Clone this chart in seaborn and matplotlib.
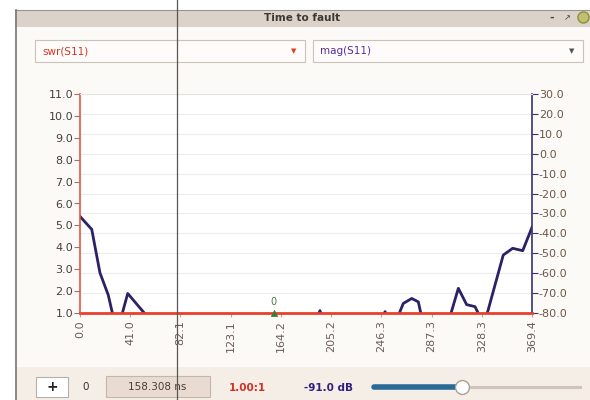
import matplotlib
matplotlib.use("Agg")
import matplotlib.pyplot as plt
import seaborn as sns
from matplotlib.patches import Rectangle
from matplotlib.lines import Line2D

# ---------------- data ----------------
time_ns = [0.0, 9.6, 16.3, 23.1, 30.2, 39.0, 56.0, 80.0, 110.0, 140.0, 158.3,
           175.0, 190.0, 196.1, 202.0, 225.0, 243.0, 249.3, 255.8, 264.2, 271.1,
           276.5, 282.8, 297.5, 309.2, 316.0, 322.8, 330.2, 345.9, 353.6, 361.8, 369.4]
mag_db = [-31.5, -38.0, -59.8, -71.0, -90.0, -70.2, -82.5, -93.0, -95.0, -92.0, -91.0,
          -94.0, -90.0, -78.8, -90.0, -96.0, -90.0, -79.3, -88.0, -75.2, -72.7,
          -74.4, -92.0, -92.0, -67.6, -75.8, -76.8, -86.0, -50.9, -47.5, -48.7, -37.0]
swr_time = [0.0, 369.4]
swr_val = [1.0, 1.0]
x_ticks = [0.0, 41.0, 82.1, 123.1, 164.2, 205.2, 246.3, 287.3, 328.3, 369.4]
swr_ticks = [1.0, 2.0, 3.0, 4.0, 5.0, 6.0, 7.0, 8.0, 9.0, 10.0, 11.0]
mag_ticks = [-80.0, -70.0, -60.0, -50.0, -40.0, -30.0, -20.0, -10.0, 0.0, 10.0, 20.0, 30.0]
marker_time = 158.308
marker_swr = 1.0
marker_label = "0"
window_title = "Time to fault"
left_trace = "swr(S11)"
right_trace = "mag(S11)"
readout_time = "158.308 ns"
readout_swr = "1.00:1"
readout_mag = "-91.0 dB"

plt.rcParams['font.family'] = ['DejaVu Sans']

W, H = 590, 400
fig = plt.figure(figsize=(W / 100, H / 100), dpi=100)
fig.patch.set_facecolor('white')


def fx(px):
    return px / W


def fy(py):
    return 1 - py / H


def rect(x0, y0, x1, y1, **kw):
    fig.add_artist(Rectangle((fx(x0), fy(y1)), (x1 - x0) / W, (y1 - y0) / H,
                             transform=fig.transFigure, **kw))


def hline(x0, x1, y, **kw):
    fig.add_artist(Line2D([fx(x0), fx(x1)], [fy(y), fy(y)], transform=fig.transFigure, **kw))


def vline(x, y0, y1, **kw):
    fig.add_artist(Line2D([fx(x), fx(x)], [fy(y0), fy(y1)], transform=fig.transFigure, **kw))


# ---------------- window chrome ----------------
rect(15, 10, 590, 400, fc='#fbfaf7', ec='none', zorder=0)
rect(15, 10, 590, 27, fc='#dbd2c9', ec='none', zorder=0)
rect(15, 367, 590, 400, fc='#f4eee7', ec='none', zorder=0)
hline(15, 590, 10, color='#9a948e', lw=0.8)
vline(16, 10, 400, color='#7a7672', lw=1.2)
fig.text(fx(302), fy(18), window_title, ha='center', va='center', fontsize=7.5,
         fontweight='bold', color='#3d3833')
fig.text(fx(552), fy(18), "-", ha='center', va='center', fontsize=8, fontweight='bold', color='#444')
fig.text(fx(567), fy(18), "↗", ha='center', va='center', fontsize=6, color='#444')
fig.add_artist(Line2D([fx(583)], [fy(17)], marker='o', ms=8, mfc='#c2c070', mec='#8f8d45',
                      transform=fig.transFigure))

# combo boxes
rect(35, 40, 305, 62, fc='#fdfcfa', ec='#cbc2b8', lw=0.8)
fig.text(fx(42), fy(51), left_trace, ha='left', va='center', fontsize=7.5, color='#d8351f')
fig.text(fx(294), fy(51), "▼", ha='center', va='center', fontsize=5, color='#e04020')
rect(313, 40, 583, 62, fc='#fdfcfa', ec='#cbc2b8', lw=0.8)
fig.text(fx(320), fy(51), right_trace, ha='left', va='center', fontsize=7.5, color='#5b2d9c')
fig.text(fx(572), fy(51), "▼", ha='center', va='center', fontsize=5, color='#555555')

# bottom bar widgets
rect(36, 377, 68, 397, fc='#ffffff', ec='#b8b0a8', lw=0.8)
fig.text(fx(52), fy(387), "+", ha='center', va='center', fontsize=10, fontweight='bold', color='#222')
fig.text(fx(86), fy(387), "0", ha='center', va='center', fontsize=7.5, color='#333')
rect(106, 376, 210, 397, fc='#eadbd2', ec='#c6b6aa', lw=0.8)
fig.text(fx(157), fy(387), readout_time, ha='center', va='center', fontsize=7.5, color='#4a3c36')
fig.text(fx(247), fy(388), readout_swr, ha='center', va='center', fontsize=7.5,
         fontweight='bold', color='#d23028')
fig.text(fx(328), fy(388), readout_mag, ha='center', va='center', fontsize=7.5,
         fontweight='bold', color='#2e1f80')
hline(462, 580, 387, color='#cfc5bc', lw=2.2)
hline(374, 462, 387, color='#2a6a98', lw=4, solid_capstyle='round')
fig.add_artist(Line2D([fx(462)], [fy(387)], marker='o', ms=10, mfc='#ffffff', mec='#a8a098',
                      transform=fig.transFigure))

# ---------------- chart ----------------
ax = fig.add_axes([fx(80), fy(313), (532 - 80) / W, (313 - 94) / H])
ax2 = ax.twinx()
ax.set_zorder(3)
ax.patch.set_visible(False)
ax2.set_zorder(2)
ax2.patch.set_visible(True)
ax2.patch.set_facecolor('white')

sns.lineplot(x=time_ns, y=mag_db, ax=ax2, color='#2b2166', lw=2, estimator=None, sort=False)
sns.lineplot(x=swr_time, y=swr_val, ax=ax, color='#e8402a', lw=2, clip_on=False)
sns.scatterplot(x=[marker_time], y=[marker_swr], ax=ax, marker='^', s=22, color='#3a7a3a',
                edgecolor='#3a7a3a', clip_on=False, zorder=6)
ax.annotate(marker_label, (marker_time, marker_swr), xytext=(0, 4), textcoords='offset points',
            ha='center', va='bottom', fontsize=7, color='#3f7a3f')

ax.set_xlim(0.0, 369.4)
ax.set_ylim(1.0, 11.0)
ax2.set_ylim(-80.0, 30.0)
ax.set_xticks(x_ticks)
ax.set_xticklabels([f"{v:.1f}" for v in x_ticks])
ax.set_yticks(swr_ticks)
ax.set_yticklabels([f"{v:.1f}" for v in swr_ticks])
ax2.set_yticks(mag_ticks)
ax2.set_yticklabels([f"{v:.1f}" for v in mag_ticks])
ax.set_xlabel("")
ax.set_ylabel("")
ax2.set_ylabel("")

ax2.grid(True, color='#ececec', lw=0.8)
ax.grid(False)

for s in ['right', 'bottom']:
    ax.spines[s].set_visible(False)
ax.spines['top'].set_color('#e2e2e2')
ax.spines['left'].set_color('#e8553f')
ax.spines['left'].set_linewidth(1.2)
for s in ['left', 'top', 'bottom']:
    ax2.spines[s].set_visible(False)
ax2.spines['right'].set_color('#3a3070')
ax2.spines['right'].set_linewidth(1.2)

ax.tick_params(axis='y', left=True, length=4, width=0.8, color='#8a7a7a', labelsize=8,
               labelcolor='#4a3c3c', pad=1)
ax.tick_params(axis='x', bottom=True, length=3, width=0.8, color='#aaaaaa', labelsize=8,
               labelcolor='#6a5a5a', rotation=90, pad=2)
ax2.tick_params(axis='y', right=True, length=4, width=0.8, color='#3a3070', labelsize=8,
                labelcolor='#6e5646', pad=1)

# cursor line across the screenshot
vline(177, 0, 400, color='#5a5550', lw=0.9, zorder=10)

fig.savefig("out.png", dpi=100, facecolor=fig.get_facecolor())
